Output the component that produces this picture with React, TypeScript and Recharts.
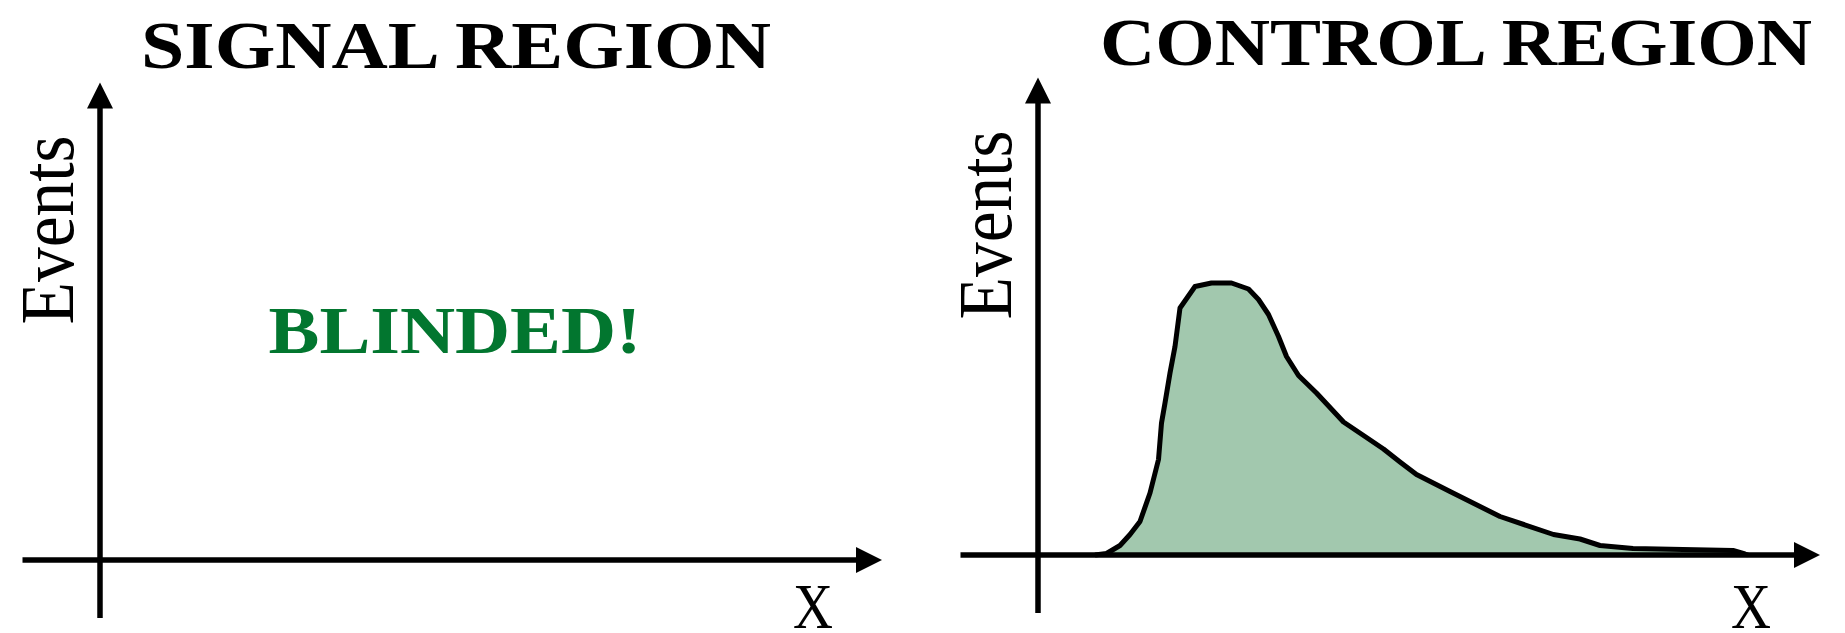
import React from 'react';
import { AreaChart, Area, XAxis, YAxis, ReferenceLine, ReferenceDot } from 'recharts';

// Control-region distribution, in arbitrary X / Events units
const controlX = [
  1.14, 1.37, 1.64, 1.84, 2.04, 2.24, 2.41, 2.47, 2.54, 2.64, 2.74, 2.84, 3.14, 3.47, 3.87, 4.21, 4.41, 4.61,
  4.81, 4.97, 5.21, 5.57, 6.11, 6.57, 6.91, 7.24, 7.57, 8.24, 9.24, 10.31, 10.84, 11.24, 11.9, 13.9, 14.14, 14.2,
];
const controlEvents = [
  0, 0.03, 0.19, 0.41, 0.67, 1.24, 1.91, 2.64, 3.04, 3.64, 4.17, 4.94, 5.37, 5.44, 5.44, 5.32, 5.11, 4.81,
  4.37, 3.97, 3.59, 3.24, 2.66, 2.35, 2.12, 1.86, 1.61, 1.27, 0.77, 0.41, 0.32, 0.19, 0.13, 0.09, 0.02, 0,
];

// axis extents (crossing at the origin, arrow on the far end)
const xAxisSpan = [-1.55, 15.64];
const yAxisSpan = [-1.16, 9.55];

const signalTitle = 'SIGNAL REGION';
const controlTitle = 'CONTROL REGION';
const blindedText = 'BLINDED!';

const controlData = controlX.map((x, i) => ({ x, events: controlEvents[i] }));

const FONT = '"Liberation Serif", "Times New Roman", serif';

const Arrow = (props: any) => {
  const { x1, y1, x2, y2 } = props;
  const dx = x2 - x1;
  const dy = y2 - y1;
  const len = Math.hypot(dx, dy) || 1;
  const ux = dx / len;
  const uy = dy / len;
  const head = 26;
  const half = 13;
  const bx = x2 - ux * head;
  const by = y2 - uy * head;
  return (
    <g>
      <line x1={x1} y1={y1} x2={bx + ux * 2} y2={by + uy * 2} stroke="#000" strokeWidth={5.5} />
      <polygon
        points={`${x2},${y2} ${bx - uy * half},${by + ux * half} ${bx + uy * half},${by - ux * half}`}
        fill="#000"
      />
    </g>
  );
};

const textShape = (
  label: string,
  opts: { size: number; length: number; bold?: boolean; fill?: string; rotate?: boolean },
) =>
  (p: any) => (
    <text
      x={p.cx}
      y={p.cy}
      textAnchor="middle"
      fontFamily={FONT}
      fontSize={opts.size}
      fontWeight={opts.bold ? 700 : 400}
      fill={opts.fill ?? '#000'}
      textLength={opts.length}
      lengthAdjust="spacingAndGlyphs"
      transform={opts.rotate ? `rotate(-90 ${p.cx} ${p.cy})` : undefined}
    >
      {label}
    </text>
  );

function Panel({
  data,
  title,
  titleX,
  titleY,
  titleLength,
  xLabelY,
  children,
}: {
  data: { x: number; events: number }[];
  title: string;
  titleX: number;
  titleY: number;
  titleLength: number;
  xLabelY: number;
  children?: React.ReactNode;
}) {
  return (
    <AreaChart width={920} height={635} data={data} margin={{ top: 0, right: 0, bottom: 0, left: 0 }}>
      <XAxis type="number" dataKey="x" domain={[-2, 16.4]} allowDataOverflow hide />
      <YAxis type="number" domain={[-1.5, 11.2]} allowDataOverflow hide />
      {children}
      <ReferenceLine
        segment={[{ x: xAxisSpan[0], y: 0 }, { x: xAxisSpan[1], y: 0 }]}
        shape={Arrow}
        ifOverflow="visible"
      />
      <ReferenceLine
        segment={[{ x: 0, y: yAxisSpan[0] }, { x: 0, y: yAxisSpan[1] }]}
        shape={Arrow}
        ifOverflow="visible"
      />
      <ReferenceDot
        x={titleX}
        y={titleY}
        ifOverflow="visible"
        shape={textShape(title, { size: 68, length: titleLength, bold: true })}
      />
      <ReferenceDot
        x={-0.54}
        y={6.6}
        ifOverflow="visible"
        shape={textShape('Events', { size: 76, length: 189, rotate: true })}
      />
      <ReferenceDot x={14.26} y={xLabelY} ifOverflow="visible" shape={textShape('X', { size: 64, length: 40 })} />
    </AreaChart>
  );
}

export default function App() {
  return (
    <div
      style={{
        position: 'absolute',
        left: 0,
        top: 0,
        width: 1845,
        height: 633,
        overflow: 'hidden',
        background: '#fff',
      }}
    >
      <div style={{ position: 'absolute', left: 0, top: 0 }}>
        <Panel data={[]} title={signalTitle} titleX={7.12} titleY={9.84} titleLength={630} xLabelY={-1.36}>
          <ReferenceDot
            x={7.1}
            y={4.14}
            ifOverflow="visible"
            shape={textShape(blindedText, { size: 68, length: 373, bold: true, fill: '#02762f' })}
          />
        </Panel>
      </div>
      <div style={{ position: 'absolute', left: 938, top: -5 }}>
        <Panel data={controlData} title={controlTitle} titleX={8.36} titleY={9.81} titleLength={712} xLabelY={-1.46}>
          <Area
            type="linear"
            dataKey="events"
            baseValue={0}
            stroke="#000"
            strokeWidth={5}
            strokeLinejoin="round"
            fill="#a2c8ae"
            fillOpacity={1}
            dot={false}
            activeDot={false}
            isAnimationActive={false}
          />
        </Panel>
      </div>
    </div>
  );
}
